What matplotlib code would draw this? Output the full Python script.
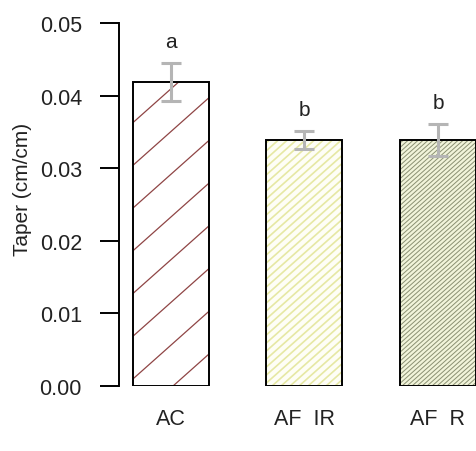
import numpy as np
import matplotlib
matplotlib.use("Agg")
import matplotlib.pyplot as plt
from matplotlib.collections import LineCollection

plt.rcParams['font.family'] = ['Liberation Sans', 'DejaVu Sans']

# data
groups = ['AC', 'AF  IR', 'AF  R']
taper = [0.0419, 0.0339, 0.0339]
se = [0.0026, 0.0012, 0.0022]
letters = ['a', 'b', 'b']

# styling per bar: face colour, hatch colour, hatch spacing (px), hatch width
faces = ['white', '#fefef6', '#f1f4da']
hatch_cols = ['#8f4545', '#e6e8a4', '#8a9072']
hatch_gap = [48, 9, 5]
hatch_lw = [0.9, 1.2, 0.7]

fig = plt.figure(figsize=(4.76, 4.52), dpi=100)
ax = fig.add_axes([0.25, 0.1438, 0.75, 0.8031])

x = np.arange(len(groups))
bars = ax.bar(x, taper, width=0.569, color=faces, linewidth=0, zorder=1)
# outlines on top of the hatching
ax.bar(x, taper, width=0.569, fill=False, edgecolor='black', linewidth=1.4, zorder=3)
ax.errorbar(x, taper, yerr=se, fmt='none', ecolor='#b5b5b5', elinewidth=2.2,
            capsize=7, capthick=2.2, zorder=4)

for xi, t, s, lab in zip(x, taper, se, letters):
    ax.text(xi, t + s + 0.003, lab, ha='center', va='center', fontsize=15, color='#222222')

ax.set_xlim(-0.3895, 2.285)
ax.set_ylim(0, 0.05)
ax.set_yticks([0, 0.01, 0.02, 0.03, 0.04, 0.05])
ax.set_yticklabels(['0.00', '0.01', '0.02', '0.03', '0.04', '0.05'])
ax.set_xticks(x)
ax.set_xticklabels(groups)
ax.tick_params(axis='y', length=13.7, width=1.4, pad=13, labelsize=15.5, labelcolor='#222222')
ax.tick_params(axis='x', length=0, pad=16, labelsize=15.5, labelcolor='#222222')
for side in ['top', 'right', 'bottom']:
    ax.spines[side].set_visible(False)
ax.spines['left'].set_linewidth(1.4)
ax.spines['left'].set_bounds(0, 0.05)
ax.patch.set_visible(False)
ax.set_ylabel('Taper (cm/cm)', fontsize=15, color='#222222')
ax.yaxis.set_label_coords(-0.245, 0.545)

# diagonal hatch lines drawn in pixel space, clipped to each bar
W, H = 476, 452
slope = 0.89
for b, col, gap, lw in zip(bars, hatch_cols, hatch_gap, hatch_lw):
    offs = np.arange(-W, W + H, gap)
    segs = [[(c, 0), (c + H / slope, H)] for c in offs]
    lc = LineCollection(segs, colors=col, linewidths=lw, transform=None, zorder=2)
    ax.add_collection(lc, autolim=False)
    lc.set_clip_path(b)

fig.savefig('out.png', dpi=100)
